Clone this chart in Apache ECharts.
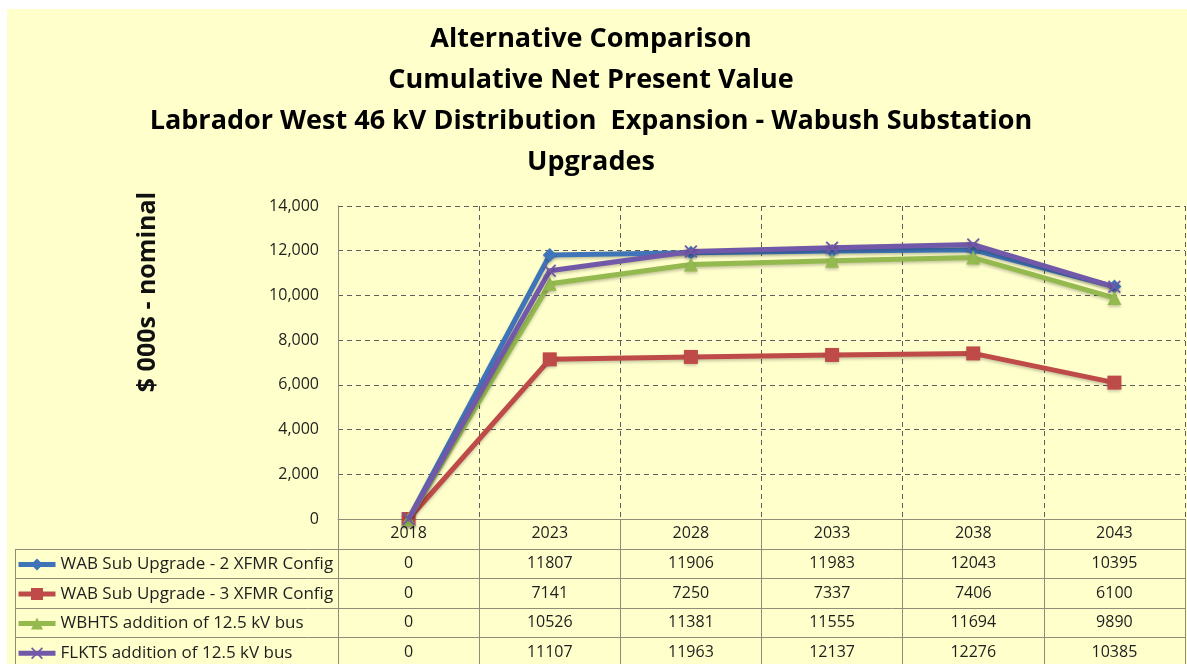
<!DOCTYPE html>
<html>
<head>
<meta charset="utf-8">
<script src="https://cdn.jsdelivr.net/npm/echarts@6/dist/echarts.min.js"></script>
<style>
  html, body { margin: 0; padding: 0; background: #ffffff; }
  #chart { position: absolute; left: 7px; top: 9px; width: 1180px; height: 655px; }
</style>
</head>
<body>
<div id="chart"></div>
<script>
// Years shown along the axis / table header
const years = ['2018', '2023', '2028', '2033', '2038', '2043'];

// Cumulative NPV per alternative ($000s nominal)
const seriesNames = [
  'WAB Sub Upgrade - 2 XFMR Config',
  'WAB Sub Upgrade - 3 XFMR Config',
  'WBHTS addition of 12.5 kV bus',
  'FLKTS addition of 12.5 kV bus'
];
const wab2Xfmr = [0, 11807, 11906, 11983, 12043, 10395];
const wab3Xfmr = [0, 7141, 7250, 7337, 7406, 6100];
const wbhtsBus = [0, 10526, 11381, 11555, 11694, 9890];
const flktsBus = [0, 11107, 11963, 12137, 12276, 10385];

const titleLines = [
  'Alternative Comparison',
  'Cumulative Net Present Value',
  'Labrador West 46 kV Distribution  Expansion - Wabush Substation',
  'Upgrades'
];
const yAxisTitle = '$ 000s - nominal';

const allSeries = [wab2Xfmr, wab3Xfmr, wbhtsBus, flktsBus];
const colors = ['#3F74B8', '#BE4B48', '#94B94F', '#7258A8'];
const crossPath = 'path://M0,1 L1,0 L5,4 L9,0 L10,1 L6,5 L10,9 L9,10 L5,6 L1,10 L0,9 L4,5 Z';
const symbols = ['diamond', 'rect', 'triangle', crossPath];
const symbolSizes = [14, 14, 14, 13];

const FONT = "'Open Sans', 'Noto Sans', sans-serif";
const GRID = { left: 331, top: 197, right: 2, bottom: 145 };
const W = 1180, H = 655;
const axisY = H - GRID.bottom;      // x axis line / table header top
const rowH = 29.6;                  // table row height
const legendItemH = 18;
const lineCol = '#8E8E78';
const gridCol = '#5E5E5E';

const chart = echarts.init(document.getElementById('chart'), null, { renderer: 'canvas' });

const graphics = [];
// chart title
graphics.push({
  type: 'text', silent: true,
  x: 584, y: 10,
  style: {
    text: titleLines.join('\n'), fontFamily: FONT, fontSize: 27, fontWeight: 'bold',
    fill: '#000', align: 'center', verticalAlign: 'top', lineHeight: 41
  }
});
// value axis title
graphics.push({
  type: 'text', silent: true,
  x: 141, y: 283, rotation: Math.PI / 2,
  style: {
    text: yAxisTitle, fontFamily: FONT, fontSize: 25, fontWeight: 'bold',
    fill: '#111', align: 'center', verticalAlign: 'middle'
  }
});
// table row separators and left border
for (let k = 1; k <= 4; k++) {
  const y = Math.round(axisY + k * rowH) + 0.5;
  graphics.push({
    type: 'line', silent: true,
    shape: { x1: 8, y1: y, x2: W - GRID.right, y2: y },
    style: { stroke: lineCol, lineWidth: 1 }
  });
}
graphics.push({
  type: 'line', silent: true,
  shape: { x1: 8.5, y1: Math.round(axisY + rowH) + 0.5, x2: 8.5, y2: H },
  style: { stroke: lineCol, lineWidth: 1 }
});

const option = {
  animation: false,
  backgroundColor: '#FFFFCC',
  grid: Object.assign({ outerBoundsMode: 'none', containLabel: false }, GRID),
  legend: {
    orient: 'vertical',
    left: 9,
    top: axisY + 1.5 * rowH - legendItemH / 2 + 1,
    padding: 0,
    itemGap: rowH - legendItemH,
    itemWidth: 37,
    itemHeight: 15,
    selectedMode: false,
    data: seriesNames,
    lineStyle: { width: 5 },
    textStyle: {
      fontFamily: FONT, fontSize: 17, color: '#1E1E1E',
      lineHeight: legendItemH
    }
  },
  xAxis: {
    type: 'category',
    data: years,
    boundaryGap: true,
    axisLine: { lineStyle: { color: lineCol, width: 1 } },
    axisTick: { show: true, length: H - axisY, lineStyle: { color: lineCol } },
    splitLine: { show: true, lineStyle: { color: gridCol, type: [5, 4], width: 1 } },
    axisLabel: {
      margin: 0,
      fontFamily: FONT, fontSize: 16, color: '#1E1E1E',
      lineHeight: rowH,
      interval: 0,
      formatter: (value, idx) => [value].concat(allSeries.map(s => String(s[idx]))).join('\n')
    }
  },
  yAxis: {
    type: 'value',
    min: 0, max: 14000, interval: 2000,
    axisLine: { show: true, lineStyle: { color: lineCol, width: 1 } },
    axisTick: { show: false },
    splitLine: { show: true, lineStyle: { color: gridCol, type: [5, 4], width: 1 } },
    axisLabel: {
      margin: 19,
      fontFamily: FONT, fontSize: 16, color: '#1E1E1E',
      formatter: v => v.toLocaleString('en-US')
    }
  },
  series: allSeries.map((data, i) => ({
    name: seriesNames[i],
    type: 'line',
    data: data,
    symbol: symbols[i],
    symbolSize: symbolSizes[i],
    showAllSymbol: true,
    color: colors[i],
    lineStyle: {
      width: 5, color: colors[i],
      shadowColor: 'rgba(0,0,0,0.22)', shadowBlur: 3, shadowOffsetY: 2
    },
    itemStyle: {
      color: colors[i],
      shadowColor: 'rgba(0,0,0,0.22)', shadowBlur: 3, shadowOffsetY: 2
    },
    emphasis: { disabled: true },
    z: 3 + i
  })),
  graphic: graphics
};

chart.setOption(option);
</script>
</body>
</html>
